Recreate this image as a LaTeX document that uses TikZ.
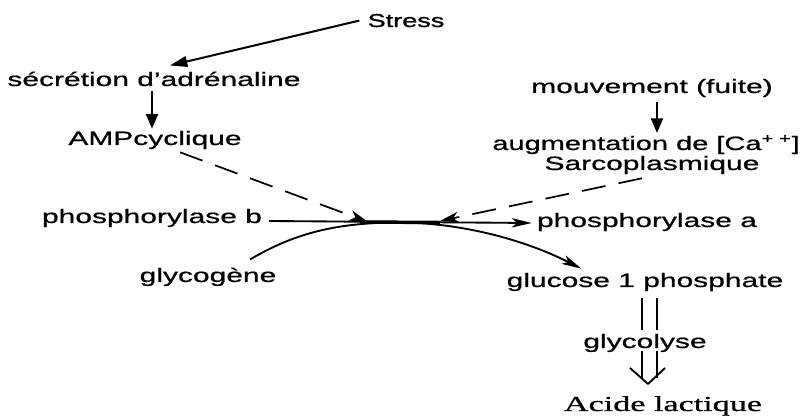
\documentclass[tikz,border=0pt]{standalone}
\usepackage{fontspec}
\setmainfont[FakeStretch=1.55,FakeBold=0.8]{Liberation Sans}
\newfontfamily\augfont[FakeStretch=1.5,FakeBold=0.8]{Liberation Sans}
\newfontfamily\serifwide[FakeStretch=1.6,FakeBold=0.8]{Liberation Serif}
\newfontfamily\stressfont[FakeStretch=1.45,FakeBold=1.2]{Liberation Sans}
\usetikzlibrary{arrows.meta,calc}
\begin{document}
\begin{tikzpicture}[x=0.75pt,y=-0.75pt,
  lab/.style={inner sep=0pt, font=\fontsize{14.5}{17}\selectfont, anchor=base},
  solidarr/.style={line width=1.5pt, -{Triangle[length=13pt,width=8pt]}},
  vertarr/.style={line width=1.5pt, -{Triangle[length=11pt,width=9pt]}},
  longarr/.style={line width=1.4pt, -{Stealth[length=15pt,width=7pt,inset=4pt]}},
  dasharr/.style={line width=1.3pt, dash pattern=on 18pt off 10pt, -{Stealth[length=14pt,width=8pt,inset=4pt]}},
  dbl/.style={line width=1.4pt}
]
\useasboundingbox (0,0) rectangle (808,416);
\node[lab,font=\stressfont\fontsize{14}{17}\selectfont] (stress) at (406,27) {Stress};
\node[lab] (sec) at (154,86) {sécrétion d'adrénaline};
\node[lab] (amp) at (155,145) {AMPcyclique};
\node[lab] (mouv) at (652,93) {mouvement (fuite)};
\node[lab,font=\augfont\fontsize{14.5}{17}\selectfont] (aug) at (646,150) {augmentation de [Ca\textsuperscript{+ +}]};
\node[lab] (sarco) at (652,170) {Sarcoplasmique};
\node[lab] (pb) at (152,223) {phosphorylase b};
\node[lab] (pa) at (647,227) {phosphorylase a};
\node[lab] (glycog) at (208,282) {glycogène};
\node[lab] (g1p) at (645,287) {glucose 1 phosphate};
\node[lab] (glycol) at (645,348) {glycolyse};
\node[lab,font=\serifwide\fontsize{16}{19}\selectfont] (acide) at (663,411) {Acide lactique};

\coordinate (j) at (400,222);
% Stress -> secretion
\draw[solidarr] ($(stress.west)+(-8,0)$) -- ($(sec.north)+(16,-6)$);
% secretion -> AMP
\draw[vertarr] ($(sec.south)+(-2,5)$) -- ($(amp.north)+(-3,-2)$);
% mouvement -> augmentation
\draw[vertarr] ($(mouv.south)+(5,5)$) -- ($(aug.north)+(11,-2)$);
% dashed AMP -> junction
\draw[dasharr] ($(amp.south)+(25,3)$) -- ($(j)+(-32,0)$);
% dashed Sarco -> junction
\draw[dasharr] ($(sarco.south)+(-10,4)$) -- ($(j)+(40,-1)$);
% main horizontal
\draw[longarr] ($(pb.base east)+(7,-2)$) -- ($(pa.base west)+(-5,-4)$);
\draw[line width=2.6pt] (360,222) -- (440,222.5);
% glycogene curve
\draw[longarr] ($(glycog.north)+(42,-8)$) .. controls (290,236) and (330,223) .. (395,222.5)
  .. controls (460,222) and (525,240) .. ($(g1p.north west)+(75,-4)$);
% glucose -> glycolyse (double)
\draw[dbl] (642,298) -- (642,330);
\draw[dbl] (657,298) -- (657,330);
% glycolyse -> acide lactique (double open arrow)
\draw[dbl] (642,351) -- (642,378);
\draw[dbl] (657,351) -- (657,378);
\draw[dbl, line join=round] (630,368) -- (648,384) -- (665,368);
\end{tikzpicture}
\end{document}
